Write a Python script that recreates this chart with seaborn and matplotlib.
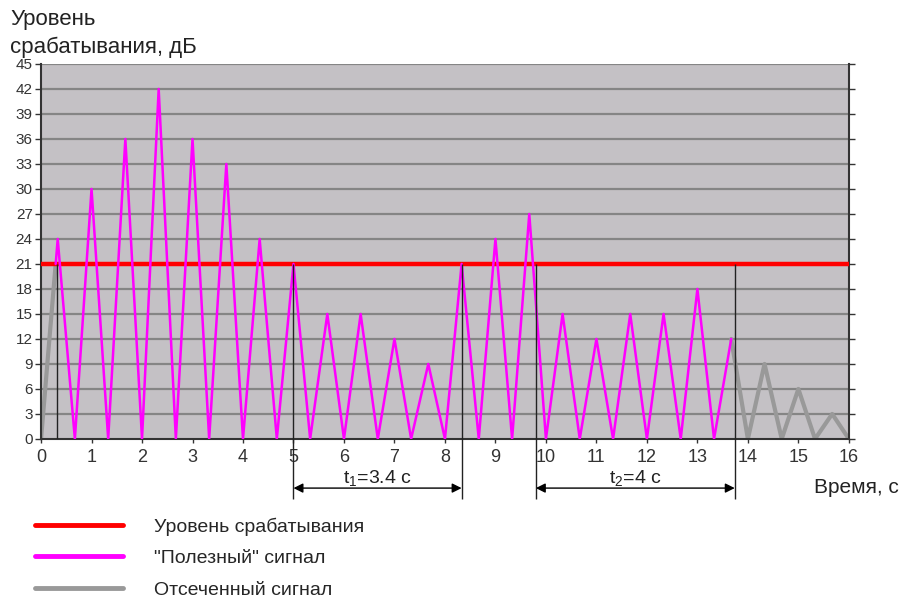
import pandas as pd
import matplotlib.pyplot as plt
import seaborn as sns
from matplotlib.lines import Line2D

# Signal samples (time in s, level in dB)
useful_time = [0.29, 0.33, 0.67, 1.0, 1.33, 1.67, 2.0, 2.33, 2.67, 3.0, 3.33,
               3.67, 4.0, 4.33, 4.67, 5.0, 5.33, 5.67, 6.0, 6.33, 6.67,
               7.0, 7.33, 7.67, 8.0, 8.33, 8.67, 9.0, 9.33, 9.67, 10.0,
               10.33, 10.67, 11.0, 11.33, 11.67, 12.0, 12.33, 12.67, 13.0, 13.33,
               13.67]
useful_level = [21, 24, 0, 30, 0, 36, 0, 42, 0, 36, 0,
                33, 0, 24, 0, 21, 0, 15, 0, 15, 0,
                12, 0, 9, 0, 21, 0, 24, 0, 27, 0,
                15, 0, 12, 0, 15, 0, 15, 0, 18, 0,
                12]

cut_time = [0.0, 0.29, 13.67, 14.0, 14.33, 14.67, 15.0, 15.33, 15.67, 16.0]
cut_level = [0, 21, 12, 0, 9, 0, 6, 0, 3, 0]
cut_segment = [0, 0, 1, 1, 1, 1, 1, 1, 1, 1]

threshold = 21
trigger_times = [0.32, 5.0, 8.33, 9.8, 13.74]
intervals = [(5.0, 8.33, 't$_1$=3.4 с'), (9.8, 13.74, 't$_2$=4 с')]

x_ticks = list(range(0, 17))
y_ticks = list(range(0, 46, 3))

legend_labels = ['Уровень срабатывания', '"Полезный" сигнал', 'Отсеченный сигнал']
red, magenta, gray = '#ff0000', '#ff00ff', '#999999'

sns.set_style('ticks')
plt.rcParams['font.family'] = ['Liberation Sans', 'DejaVu Sans']
plt.rcParams['mathtext.fontset'] = 'custom'
plt.rcParams['mathtext.rm'] = 'Liberation Sans'
plt.rcParams['mathtext.it'] = 'Liberation Sans'

useful = pd.DataFrame({'t': useful_time, 'v': useful_level})
cut = pd.DataFrame({'t': cut_time, 'v': cut_level, 'seg': cut_segment})

fig = plt.figure(figsize=(9.04, 5.98), dpi=100)
ax = fig.add_axes([0.0454, 0.266, 0.8936, 0.627])
ax.set_facecolor('#c4c1c5')

# horizontal grid
for y in y_ticks[1:]:
    ax.axhline(y, color='#858585', lw=1.6, zorder=1)

ax.axhline(threshold, color=red, lw=3.2, zorder=3)
sns.lineplot(data=cut, x='t', y='v', units='seg', estimator=None, color=gray,
             lw=3, ax=ax, zorder=2, legend=False)
sns.lineplot(data=useful, x='t', y='v', estimator=None, color=magenta,
             lw=1.8, ax=ax, zorder=4, legend=False, sort=False)

# trigger markers and interval arrows
ax.vlines(trigger_times[0], 0, threshold, color='#222222', lw=1, zorder=5)
ax.vlines(trigger_times[1:], -7.2, threshold, color='#222222', lw=1,
          zorder=5, clip_on=False)
for start, end, label in intervals:
    ax.annotate('', xy=(end, -5.9), xytext=(start, -5.9), annotation_clip=False,
                arrowprops=dict(arrowstyle='<|-|>', color='black', lw=1,
                                mutation_scale=14, shrinkA=0, shrinkB=0))
    ax.text((start + end) / 2, -4.7, label, ha='center', va='center',
            fontsize=14, color='#222222')

ax.set_xlim(0, 16)
ax.set_ylim(0, 45)
ax.set_xticks(x_ticks)
ax.set_yticks(y_ticks)
ax.tick_params(axis='x', labelsize=13, length=3, width=1, colors='#333333', pad=4)
ax.tick_params(axis='y', labelsize=11, length=4, width=1, colors='#333333',
               right=True, pad=2)
ax.set_xlabel('')
ax.set_ylabel('')
for side in ['left', 'bottom', 'right']:
    ax.spines[side].set_color('#333333')
    ax.spines[side].set_linewidth(1.5)
ax.spines['top'].set_visible(False)

fig.text(0.011, 0.985, 'Уровень\nсрабатывания, дБ', ha='left', va='top',
         fontsize=16, color='#222222', linespacing=1.4)
fig.text(0.994, 0.185, 'Время, с', ha='right', va='center', fontsize=15,
         color='#222222')

handles = [Line2D([], [], color=red, lw=3.5),
           Line2D([], [], color=magenta, lw=3.5),
           Line2D([], [], color=gray, lw=3.5)]
fig.legend(handles, legend_labels, loc='upper left', bbox_to_anchor=(0.039, 0.135),
           frameon=False, fontsize=14, handlelength=4.5, handletextpad=1.6,
           labelspacing=0.72, borderpad=0, borderaxespad=0)

fig.savefig('out.png', dpi=100)
